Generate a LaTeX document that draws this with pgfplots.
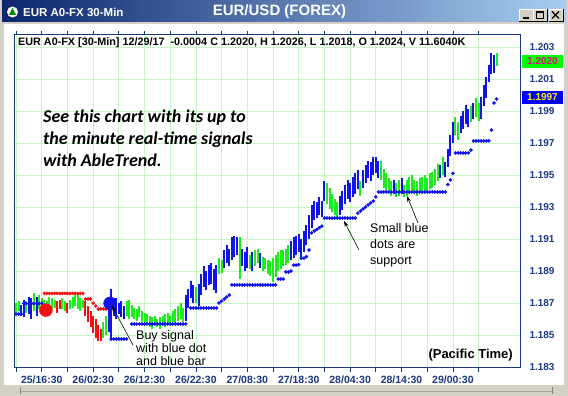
\documentclass[border=0pt]{standalone}
\usepackage{pgfplots}
\usepackage{pgfplotstable}
\pgfplotsset{compat=1.18}
\usetikzlibrary{arrows.meta}
\usepackage{fontspec}
\setmainfont{Liberation Sans}
\newfontfamily\calib{Carlito}
\definecolor{barblue}{RGB}{15,20,235}
\definecolor{bargreen}{RGB}{25,240,25}
\definecolor{barred}{RGB}{245,15,15}
\definecolor{gridgreen}{RGB}{198,245,198}
\definecolor{axisnavy}{RGB}{25,55,130}
\definecolor{labelblue}{RGB}{25,55,130}
\definecolor{wingray}{RGB}{212,208,200}
\definecolor{tbdark}{RGB}{12,38,110}
\definecolor{tblight}{RGB}{168,204,240}

\pgfplotstableread{
i lo hi
2 1.1862 1.1869
3 1.1861 1.1872
5 1.1863 1.1874
6 1.1860 1.1873
8 1.1862 1.1874
36 1.1852 1.1870
37 1.1847 1.1879
38 1.1862 1.1871
39 1.1860 1.1873
40 1.1863 1.1870
41 1.1861 1.1871
42 1.1860 1.1868
66 1.1859 1.1875
67 1.1867 1.1879
68 1.1873 1.1884
69 1.1870 1.1881
71 1.1868 1.1882
72 1.1875 1.1888
73 1.1880 1.1893
74 1.1878 1.1890
75 1.1881 1.1894
76 1.1882 1.1895
77 1.1878 1.1891
78 1.1876 1.1894
81 1.1892 1.1903
82 1.1895 1.1906
83 1.1893 1.1904
84 1.1897 1.1911
85 1.1899 1.1912
86 1.1900 1.1911
88 1.1893 1.1904
89 1.1890 1.1902
90 1.1892 1.1905
92 1.1890 1.1902
95 1.1892 1.1901
107 1.1897 1.1909
108 1.1898 1.1911
109 1.1900 1.1912
110 1.1902 1.1913
111 1.1899 1.1910
112 1.1902 1.1915
113 1.1906 1.1919
114 1.1910 1.1925
115 1.1917 1.1931
116 1.1922 1.1934
117 1.1923 1.1933
118 1.1925 1.1936
119 1.1924 1.1934
120 1.1934 1.1946
126 1.1925 1.1937
127 1.1928 1.1940
128 1.1932 1.1944
129 1.1935 1.1947
130 1.1933 1.1945
131 1.1936 1.1949
132 1.1938 1.1951
133 1.1941 1.1953
135 1.1942 1.1953
136 1.1945 1.1956
137 1.1948 1.1959
138 1.1946 1.1958
139 1.1950 1.1961
140 1.1951 1.1961
141 1.1948 1.1959
147 1.1938 1.1947
150 1.1938 1.1948
165 1.1948 1.1956
167 1.1949 1.1958
168 1.1955 1.1966
169 1.1962 1.1975
170 1.1970 1.1983
173 1.1976 1.1987
174 1.1979 1.1990
175 1.1982 1.1994
176 1.1980 1.1991
178 1.1985 1.1995
181 1.1985 1.1999
182 1.1993 1.2006
183 1.1998 1.2011
184 1.2008 1.2019
185 1.2013 1.2026
186 1.2014 1.2025
}\bluebars

\pgfplotstableread{
i lo hi
0 1.1864 1.1870
1 1.1865 1.1871
4 1.1864 1.1871
7 1.1865 1.1876
9 1.1866 1.1875
10 1.1865 1.1873
11 1.1866 1.1872
12 1.1864 1.1871
13 1.1865 1.1874
14 1.1866 1.1873
15 1.1867 1.1872
18 1.1866 1.1873
19 1.1865 1.1871
21 1.1866 1.1872
22 1.1867 1.1874
23 1.1868 1.1875
24 1.1866 1.1876
25 1.1865 1.1873
26 1.1867 1.1872
34 1.1848 1.1858
35 1.1850 1.1862
43 1.1862 1.1871
44 1.1860 1.1872
45 1.1861 1.1869
46 1.1860 1.1867
47 1.1859 1.1866
48 1.1861 1.1868
49 1.1858 1.1865
50 1.1857 1.1864
51 1.1856 1.1863
52 1.1855 1.1862
53 1.1854 1.1861
54 1.1856 1.1862
55 1.1855 1.1860
56 1.1854 1.1861
57 1.1856 1.1862
58 1.1855 1.1863
59 1.1857 1.1864
60 1.1856 1.1862
61 1.1858 1.1865
62 1.1857 1.1866
63 1.1859 1.1868
64 1.1860 1.1870
65 1.1858 1.1867
70 1.1870 1.1880
79 1.1888 1.1898
80 1.1889 1.1897
87 1.1885 1.1911
91 1.1891 1.1900
93 1.1893 1.1903
94 1.1895 1.1904
96 1.1890 1.1899
97 1.1891 1.1898
98 1.1888 1.1897
99 1.1887 1.1896
100 1.1883 1.1898
101 1.1886 1.1900
102 1.1890 1.1902
103 1.1891 1.1903
104 1.1893 1.1903
105 1.1894 1.1904
106 1.1895 1.1906
121 1.1932 1.1945
122 1.1929 1.1942
123 1.1927 1.1938
124 1.1925 1.1935
125 1.1923 1.1933
134 1.1937 1.1946
142 1.1947 1.1959
143 1.1942 1.1954
144 1.1940 1.1951
145 1.1939 1.1948
146 1.1937 1.1946
148 1.1936 1.1945
149 1.1937 1.1947
151 1.1936 1.1944
152 1.1937 1.1947
153 1.1938 1.1949
154 1.1940 1.1950
155 1.1938 1.1947
156 1.1937 1.1946
157 1.1939 1.1948
158 1.1938 1.1949
159 1.1940 1.1950
160 1.1939 1.1948
161 1.1941 1.1951
162 1.1942 1.1952
163 1.1944 1.1954
164 1.1946 1.1957
166 1.1950 1.1961
171 1.1975 1.1986
172 1.1972 1.1983
177 1.1983 1.1993
179 1.1986 1.1998
180 1.1984 1.1995
187 1.2018 1.2026
}\greenbars

\pgfplotstableread{
i lo hi
16 1.1864 1.1871
17 1.1866 1.1872
20 1.1864 1.1870
27 1.1862 1.1871
28 1.1858 1.1868
29 1.1855 1.1865
30 1.1851 1.1862
31 1.1848 1.1860
32 1.1846 1.1856
33 1.1846 1.1854
}\redbars

\pgfplotstableread{
i y
0 1.18631
1 1.18631
2 1.18631
3 1.18697
4 1.18697
5 1.18697
6 1.18697
7 1.18697
8 1.18697
9 1.18697
10 1.18697
37 1.18475
38 1.18475
39 1.18475
40 1.18475
41 1.18475
42 1.18475
43 1.18475
45 1.18569
46 1.18569
47 1.18569
48 1.18569
49 1.18569
50 1.18569
51 1.18569
52 1.18569
53 1.18569
54 1.18569
55 1.18569
56 1.18569
57 1.18569
58 1.18569
59 1.18569
60 1.18569
61 1.18569
62 1.18569
63 1.18569
64 1.18569
65 1.18569
66 1.18569
68 1.18669
69 1.18669
70 1.18669
71 1.18669
72 1.18669
73 1.18669
74 1.18669
75 1.18669
76 1.18669
77 1.18669
78 1.18669
79 1.18700
80 1.18712
81 1.18725
82 1.18738
83 1.18750
84 1.18813
85 1.18813
86 1.18813
87 1.18813
88 1.18813
89 1.18813
90 1.18813
91 1.18813
92 1.18813
93 1.18813
94 1.18813
95 1.18813
96 1.18813
97 1.18813
98 1.18813
99 1.18813
100 1.18813
101 1.18813
102 1.18850
103 1.18850
104 1.18850
105 1.18894
106 1.18894
107 1.18900
108 1.18937
109 1.18937
110 1.18940
111 1.18980
112 1.18980
113 1.18990
114 1.19031
115 1.19138
116 1.19150
117 1.19160
118 1.19170
119 1.19180
120 1.19231
121 1.19231
122 1.19231
123 1.19231
124 1.19231
125 1.19231
126 1.19231
127 1.19231
128 1.19231
129 1.19231
130 1.19231
131 1.19231
132 1.19231
133 1.19262
134 1.19275
135 1.19288
136 1.19300
137 1.19313
138 1.19325
139 1.19338
140 1.19363
141 1.19394
142 1.19394
143 1.19394
144 1.19394
145 1.19394
146 1.19394
147 1.19394
148 1.19394
149 1.19394
150 1.19394
151 1.19394
152 1.19394
153 1.19394
154 1.19394
155 1.19394
156 1.19394
157 1.19394
158 1.19394
159 1.19394
160 1.19394
161 1.19394
162 1.19394
163 1.19394
164 1.19394
165 1.19394
166 1.19394
167 1.19394
168 1.19440
169 1.19470
170 1.19510
171 1.19638
172 1.19638
173 1.19638
174 1.19638
175 1.19638
176 1.19638
177 1.19656
178 1.19713
179 1.19713
180 1.19713
181 1.19713
182 1.19713
183 1.19713
184 1.19713
185 1.19781
186 1.19950
187 1.19975
}\supportdots

\pgfplotstableread{
i y
11 1.18760
12 1.18760
13 1.18760
14 1.18760
15 1.18760
16 1.18760
17 1.18760
18 1.18760
19 1.18760
20 1.18760
21 1.18760
22 1.18760
23 1.18760
24 1.18760
25 1.18760
26 1.18760
27 1.18725
28 1.18725
29 1.18725
30 1.18700
31 1.18681
32 1.18663
33 1.18663
34 1.18663
35 1.18663
}\resistdots

\begin{document}
\begin{tikzpicture}[x=1pt,y=1pt]
\useasboundingbox (0,0) rectangle (568,396);
% window frame
\fill[wingray] (0,0) rectangle (568,396);
\fill[white] (4,11) rectangle (564,372);
\draw[gray!70] (20,5) -- (552,5);
\draw[gray] (20,2) -- (20,9);
\draw[gray] (552,2) -- (552,9);
% title bar
\shade[left color=tbdark, right color=tblight] (2,374) rectangle (566,395);
\fill[white] (12.5,384) circle (5.5);
\fill[green!55!black] (9,381) -- (12.5,388) -- (16,381) -- cycle;
\node[anchor=west, text=white, font=\bfseries\fontsize{11.5}{13}\selectfont, inner sep=0] at (23,384) {EUR A0-FX 30-Min};
\node[text=white, font=\bfseries\fontsize{15}{17}\selectfont, inner sep=0] at (279.5,384) {EUR/USD (FOREX)};
\foreach \xa in {519,533,549} {
  \fill[wingray] (\xa,375) rectangle ++(14,12);
  \draw[black] (\xa,375) -- ++(14,0) -- ++(0,12);
  \draw[white] (\xa,375) -- ++(0,12) -- ++(14,0);
}
\draw[black, line width=1.2pt] (523,378) -- (529,378);
\draw[black, line width=0.8pt] (536.5,377.5) rectangle (543.5,384.5);
\draw[black, line width=0.5pt] (536.5,384) -- (543.5,384);
\draw[black, line width=1.3pt] (552,377.5) -- (559,384.5) (552,384.5) -- (559,377.5);

\begin{axis}[
  at={(14.5pt,28pt)}, anchor=south west,
  scale only axis, width=505.5pt, height=333pt,
  xmin=-0.6, xmax=196.1, ymin=1.18294, ymax=1.20375,
  axis line style={axisnavy, line width=1pt},
  grid=major, major grid style={gridgreen, line width=0.8pt},
  xtick={0,10,...,180},
  xticklabels={,25/16:30,,26/02:30,,26/12:30,,26/22:30,,27/08:30,,27/18:30,,28/04:30,,28/14:30,,29/00:30,},
  tick align=outside, major tick length=4pt,
  xtick style={axisnavy, line width=0.8pt},
  ytick={1.183,1.185,1.187,1.189,1.191,1.193,1.195,1.197,1.199,1.201,1.203},
  ytick style={draw=none},
  yticklabel pos=right,
  /pgf/number format/assume math mode=true,
  yticklabel style={/pgf/number format/.cd, fixed, fixed zerofill, precision=3, /tikz/.cd,
     font=\bfseries\fontsize{10}{12}\selectfont, text=labelblue, anchor=west, xshift=2pt},
  xticklabel style={font=\bfseries\fontsize{10.5}{12}\selectfont, text=labelblue},
]
\addplot[draw=none, mark=none, forget plot, error bars/.cd, y dir=plus, y explicit, error mark=none,
  error bar style={line width=2pt, draw=bargreen}]
  table[x=i, y=lo, y error plus expr={\thisrow{hi}-\thisrow{lo}}] {\greenbars};
\addplot[draw=none, mark=none, forget plot, error bars/.cd, y dir=plus, y explicit, error mark=none,
  error bar style={line width=2pt, draw=barred}]
  table[x=i, y=lo, y error plus expr={\thisrow{hi}-\thisrow{lo}}] {\redbars};
\addplot[draw=none, mark=none, forget plot, error bars/.cd, y dir=plus, y explicit, error mark=none,
  error bar style={line width=2pt, draw=barblue}]
  table[x=i, y=lo, y error plus expr={\thisrow{hi}-\thisrow{lo}}] {\bluebars};
\addplot[only marks, mark=*, mark size=1.6pt, barblue, mark options={draw=barblue, fill=barblue}]
  table[x=i, y=y] {\supportdots};
\addplot[only marks, mark=*, mark size=1.6pt, barred, mark options={draw=barred, fill=barred}]
  table[x=i, y=y] {\resistdots};
\addplot[only marks, mark=*, mark size=6.5pt, barred, mark options={draw=barred, fill=barred}]
  coordinates {(11.6,1.18656)};
\addplot[only marks, mark=*, mark size=6.5pt, barblue, mark options={draw=barblue, fill=barblue}]
  coordinates {(36.6,1.18698)};
\end{axis}

% header inside plot
\node[anchor=west, inner sep=0, font=\bfseries\fontsize{10.8}{12}\selectfont] at (18,353)
  {EUR A0-FX [30-Min] 12/29/17\ \ -0.0004 C 1.2020, H 1.2026, L 1.2018, O 1.2024, V 11.6040K};
% italic note
\node[anchor=base west, inner sep=0, font=\calib\bfseries\itshape\fontsize{18}{22}\selectfont] at (43,273) {See this chart with its up to};
\node[anchor=base west, inner sep=0, font=\calib\bfseries\itshape\fontsize{18}{22}\selectfont] at (43,251) {the minute real-time signals};
\node[anchor=base west, inner sep=0, font=\calib\bfseries\itshape\fontsize{18}{22}\selectfont] at (43,229) {with AbleTrend.};
% annotations
\node[anchor=base west, inner sep=0, font=\fontsize{12.5}{14}\selectfont] at (370,163) {Small blue};
\node[anchor=base west, inner sep=0, font=\fontsize{12.5}{14}\selectfont] at (370,147) {dots are};
\node[anchor=base west, inner sep=0, font=\fontsize{12.5}{14}\selectfont] at (370,131) {support};
\node[anchor=base west, inner sep=0, font=\fontsize{12.5}{14}\selectfont] at (136,56) {Buy signal};
\node[anchor=base west, inner sep=0, font=\fontsize{12.5}{14}\selectfont] at (136,43) {with blue dot};
\node[anchor=base west, inner sep=0, font=\fontsize{12.5}{14}\selectfont] at (136,30) {and blue bar};
\node[anchor=east, inner sep=0, font=\bfseries\fontsize{13}{15}\selectfont] at (513,41) {(Pacific Time)};
\draw[black, line width=0.6pt, -{Stealth[length=6pt, width=4pt]}] (133,51) -- (112,90);
\draw[black, line width=0.6pt, -{Stealth[length=6pt, width=4pt]}] (359,146) -- (344,175);
\draw[black, line width=0.6pt, -{Stealth[length=6pt, width=4pt]}] (418,173) -- (407,200);
% last value boxes
\fill[green] (522,328) rectangle (563,341);
\node[text=magenta, font=\bfseries\fontsize{10}{12}\selectfont, inner sep=0] at (542.5,334.5) {1.2020};
\fill[blue] (522,292) rectangle (563,305);
\node[text=yellow, font=\bfseries\fontsize{10}{12}\selectfont, inner sep=0] at (542.5,298.5) {1.1997};
\end{tikzpicture}
\end{document}
